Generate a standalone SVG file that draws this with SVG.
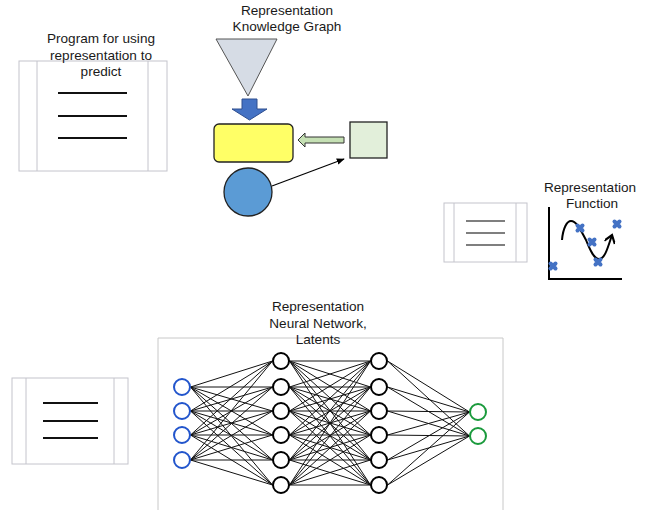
<svg xmlns="http://www.w3.org/2000/svg" width="649" height="510" viewBox="0 0 649 510">
<defs>
<style>
text{font-family:"Liberation Sans",Arial,sans-serif;font-size:13.6px;fill:#1a1a1a;text-anchor:middle}
.doc{fill:#fff;stroke:#c4c4cc;stroke-width:1}
.docl{stroke:#c4c4cc;stroke-width:1}
.rule{stroke:#111;stroke-width:2}
.rule2{stroke:#555;stroke-width:1.5}
.nn{stroke:#111;stroke-width:1;fill:none}
.neu{fill:#fff;stroke:#000;stroke-width:2}
.neu.in{stroke:#2255cc}
.neu.out{stroke:#1a9a3c}
.x{stroke:#4472c4;stroke-width:4;stroke-linecap:round}
</style>
<marker id="ah" viewBox="0 0 10 10" refX="9" refY="5" markerWidth="8" markerHeight="8" orient="auto" markerUnits="userSpaceOnUse">
<path d="M0 1 L10 5 L0 9 Z" fill="#000"/>
</marker>
<marker id="chev" viewBox="0 0 10 10" refX="8" refY="5" markerWidth="11" markerHeight="11" orient="auto" markerUnits="userSpaceOnUse">
<path d="M1 0 L8 5 L1 10" fill="none" stroke="#000" stroke-width="2"/>
</marker>
</defs>
<rect width="649" height="510" fill="#fff"/>

<g id="program-doc">
<rect class="doc" x="19" y="61" width="148" height="110"/>
<line class="docl" x1="37" y1="61" x2="37" y2="171"/>
<line class="docl" x1="148" y1="61" x2="148" y2="171"/>
<line class="rule" x1="58" y1="93" x2="127" y2="93"/>
<line class="rule" x1="58" y1="116" x2="127" y2="116"/>
<line class="rule" x1="58" y1="138" x2="127" y2="138"/>
<text x="101" y="43">Program for using</text>
<text x="101" y="60">representation to</text>
<text x="101" y="76">predict</text>
</g>

<g id="knowledge-graph">
<text x="287" y="15">Representation</text>
<text x="287" y="31">Knowledge Graph</text>
<polygon points="216,39 277,39 248,96" fill="#d6dce5" stroke="#555" stroke-width="1"/>
<polygon points="242,99 257,99 257,109 267,109 249.5,120 232,109 242,109" fill="#4472c4" stroke="#2f4f8f" stroke-width="1"/>
<rect x="214" y="124" width="79" height="38" rx="5" fill="#ffff66" stroke="#222" stroke-width="1.3"/>
<rect x="350" y="122" width="37" height="36" fill="#e2efda" stroke="#222" stroke-width="1.3"/>
<polygon points="344,137 305,137 305,133 298,140 305,147 305,143 344,143" fill="#c5e0b4" stroke="#333" stroke-width="1"/>
<circle cx="248" cy="192" r="24" fill="#5b9bd5" stroke="#222" stroke-width="1.3"/>
<line x1="272" y1="186" x2="344" y2="159" stroke="#000" stroke-width="1.2" marker-end="url(#ah)"/>
</g>

<g id="function-doc">
<rect class="doc" x="444" y="203" width="83" height="59"/>
<line class="docl" x1="454" y1="203" x2="454" y2="262"/>
<line class="docl" x1="516" y1="203" x2="516" y2="262"/>
<line class="rule2" x1="466" y1="221" x2="505" y2="221"/>
<line class="rule2" x1="466" y1="233" x2="505" y2="233"/>
<line class="rule2" x1="466" y1="245" x2="505" y2="245"/>
</g>

<g id="function">
<text x="590" y="192">Representation</text>
<text x="592" y="208">Function</text>
<polyline points="549,207 549,279 622,279" fill="none" stroke="#000" stroke-width="2"/>
<path d="M562 240 C563 228 567 221 571 221 C577 221 581 231 586 240 C590 250 594 259 599 259 C605 259 608 247 612 235" fill="none" stroke="#000" stroke-width="2" marker-end="url(#chev)"/>
<g class="x">
<path d="M550.5 263.5 L555.5 268.5 M555.5 263.5 L550.5 268.5"/>
<path d="M577.5 225.5 L582.5 230.5 M582.5 225.5 L577.5 230.5"/>
<path d="M589.5 239.5 L594.5 244.5 M594.5 239.5 L589.5 244.5"/>
<path d="M595.5 259.5 L600.5 264.5 M600.5 259.5 L595.5 264.5"/>
<path d="M614.5 221.5 L619.5 226.5 M619.5 221.5 L614.5 226.5"/>
</g>
</g>

<g id="nn-doc">
<rect class="doc" x="12" y="378" width="116" height="86"/>
<line class="docl" x1="26" y1="378" x2="26" y2="464"/>
<line class="docl" x1="114" y1="378" x2="114" y2="464"/>
<line class="rule" x1="43" y1="403" x2="98" y2="403" stroke-width="1.6"/>
<line class="rule" x1="43" y1="421" x2="98" y2="421" stroke-width="1.6"/>
<line class="rule" x1="43" y1="438" x2="98" y2="438" stroke-width="1.6"/>
</g>

<g id="neural-network-frame">
<path d="M158 511 L158 338 L503 338 L503 511" fill="none" stroke="#c8c8c8" stroke-width="1"/>
<text x="318" y="311">Representation</text>
<text x="318" y="328">Neural Network,</text>
<text x="318" y="344">Latents</text>
</g>

<g id="connectors" class="nn">
<path d="M190.5 387 L272.5 361 M190.5 387 L272.5 387 M190.5 387 L272.5 411 M190.5 387 L272.5 435 M190.5 387 L272.5 460 M190.5 387 L272.5 485
M190.5 411 L272.5 361 M190.5 411 L272.5 387 M190.5 411 L272.5 411 M190.5 411 L272.5 435 M190.5 411 L272.5 460 M190.5 411 L272.5 485
M190.5 435 L272.5 361 M190.5 435 L272.5 387 M190.5 435 L272.5 411 M190.5 435 L272.5 435 M190.5 435 L272.5 460 M190.5 435 L272.5 485
M190.5 460 L272.5 361 M190.5 460 L272.5 387 M190.5 460 L272.5 411 M190.5 460 L272.5 435 M190.5 460 L272.5 460 M190.5 460 L272.5 485"/>
<path d="M289.5 361 L370.5 361 M289.5 361 L370.5 387 M289.5 361 L370.5 411 M289.5 361 L370.5 435 M289.5 361 L370.5 460 M289.5 361 L370.5 485
M289.5 387 L370.5 361 M289.5 387 L370.5 387 M289.5 387 L370.5 411 M289.5 387 L370.5 435 M289.5 387 L370.5 460 M289.5 387 L370.5 485
M289.5 411 L370.5 361 M289.5 411 L370.5 387 M289.5 411 L370.5 411 M289.5 411 L370.5 435 M289.5 411 L370.5 460 M289.5 411 L370.5 485
M289.5 435 L370.5 361 M289.5 435 L370.5 387 M289.5 435 L370.5 411 M289.5 435 L370.5 435 M289.5 435 L370.5 460 M289.5 435 L370.5 485
M289.5 460 L370.5 361 M289.5 460 L370.5 387 M289.5 460 L370.5 411 M289.5 460 L370.5 435 M289.5 460 L370.5 460 M289.5 460 L370.5 485
M289.5 485 L370.5 361 M289.5 485 L370.5 387 M289.5 485 L370.5 411 M289.5 485 L370.5 435 M289.5 485 L370.5 460 M289.5 485 L370.5 485"/>
<path d="M387.5 361 L469.5 412 M387.5 361 L469.5 436
M387.5 387 L469.5 412 M387.5 387 L469.5 436
M387.5 411 L469.5 412 M387.5 411 L469.5 436
M387.5 435 L469.5 412 M387.5 435 L469.5 436
M387.5 460 L469.5 412 M387.5 460 L469.5 436
M387.5 485 L469.5 412 M387.5 485 L469.5 436"/>
</g>

<g id="input-layer">
<circle class="neu in" cx="182" cy="387" r="8"/>
<circle class="neu in" cx="182" cy="411" r="8"/>
<circle class="neu in" cx="182" cy="435" r="8"/>
<circle class="neu in" cx="182" cy="460" r="8"/>
</g>
<g id="hidden-layer-1">
<circle class="neu" cx="281" cy="361" r="8"/>
<circle class="neu" cx="281" cy="387" r="8"/>
<circle class="neu" cx="281" cy="411" r="8"/>
<circle class="neu" cx="281" cy="435" r="8"/>
<circle class="neu" cx="281" cy="460" r="8"/>
<circle class="neu" cx="281" cy="485" r="8"/>
</g>
<g id="hidden-layer-2">
<circle class="neu" cx="379" cy="361" r="8"/>
<circle class="neu" cx="379" cy="387" r="8"/>
<circle class="neu" cx="379" cy="411" r="8"/>
<circle class="neu" cx="379" cy="435" r="8"/>
<circle class="neu" cx="379" cy="460" r="8"/>
<circle class="neu" cx="379" cy="485" r="8"/>
</g>
<g id="output-layer">
<circle class="neu out" cx="478" cy="412" r="8"/>
<circle class="neu out" cx="478" cy="436" r="8"/>
</g>
</svg>
